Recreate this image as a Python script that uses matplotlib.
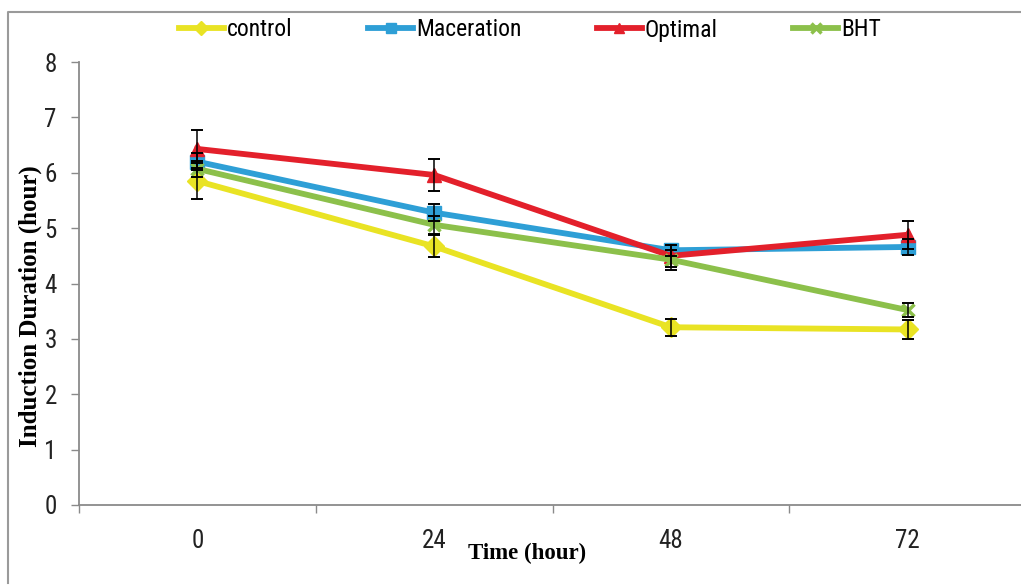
# Induction duration over time for the four treatments
import numpy as np
import matplotlib.pyplot as plt
from matplotlib.lines import Line2D
from matplotlib import font_manager as fm

times = ['0', '24', '48', '72']
series = ['control', 'Maceration', 'Optimal', 'BHT']
control = [5.85, 4.67, 3.21, 3.17]
control_err = [0.32, 0.20, 0.15, 0.17]
maceration = [6.20, 5.28, 4.60, 4.66]
maceration_err = [0.15, 0.16, 0.10, 0.15]
optimal = [6.43, 5.96, 4.50, 4.88]
optimal_err = [0.35, 0.29, 0.20, 0.25]
bht = [6.07, 5.06, 4.43, 3.52]
bht_err = [0.15, 0.16, 0.18, 0.13]

colors = ['#E9E324', '#2E9FD6', '#E3202B', '#8CC04B']
markers = ['D', 's', '^', 'x']
serif = ['Liberation Serif', 'DejaVu Serif']

# look for a narrow sans font file (Calibri-like look), fall back to Lato
narrow_file = None
best = 99
for f in fm.fontManager.ttflist:
    p = f.fname
    if any(k in p for k in ('Bold', 'Oblique', 'Italic', 'Light', 'Thin', 'Medium', 'Black')):
        continue
    for rank, key in enumerate(['LiberationSansNarrow', 'RobotoCondensed', 'DejaVuSansCondensed',
                                'OpenSansCondensed', 'NotoSans-Condensed']):
        if key in p.replace(' ', '').replace('_', '') and rank < best:
            best, narrow_file = rank, p


def nfont(size):
    if narrow_file:
        return fm.FontProperties(fname=narrow_file, size=size)
    return fm.FontProperties(family='Lato', size=size)


W, H = 1021, 587
fig = plt.figure(figsize=(W / 100, H / 100), dpi=100)
ax = fig.add_axes([79 / W, (H - 505) / H, 947 / W, 443 / H])

x = np.arange(len(times))
handles = []
for vals, errs, c, m, name in zip([control, maceration, optimal, bht],
                                  [control_err, maceration_err, optimal_err, bht_err],
                                  colors, markers, series):
    h, = ax.plot(x, vals, color=c, lw=4.2, marker=m, ms=10 if m != 'x' else 9,
                 mew=2.5 if m == 'x' else 1, mec=c, mfc=c, label=name, zorder=2)
    ax.errorbar(x, vals, yerr=errs, fmt='none', ecolor='black', elinewidth=1.1,
                capsize=4.5, capthick=1.4, zorder=3)
    handles.append(h)

ax.set_xlim(-0.5, 3.5)
ax.set_ylim(0, 8)
ax.set_yticks(range(0, 9))
ax.set_xticks(x)
ax.set_xticklabels(times)
ax.set_xticks(np.arange(-0.5, 3.0, 1), minor=True)
ax.tick_params(axis='x', which='major', length=0, pad=17)
ax.tick_params(axis='x', which='minor', length=6, width=1, color='#8a8a8a', direction='out')
ax.tick_params(axis='y', length=6, width=1, color='#8a8a8a', direction='out', pad=10)
for lab in ax.get_xticklabels() + ax.get_yticklabels():
    lab.set_fontproperties(nfont(18))
    lab.set_color('#222222')

for s in ['top', 'right']:
    ax.spines[s].set_visible(False)
for s in ['left', 'bottom']:
    ax.spines[s].set_color('#8a8a8a')
    ax.spines[s].set_linewidth(1.3)

fig.text(527 / W, 1 - 553 / H, 'Time (hour)', ha='center', va='center',
         family=serif, fontweight='bold', fontsize=16.5)
fig.text(30 / W, 1 - 306 / H, 'Induction Duration (hour)', ha='center', va='center',
         rotation=90, family=serif, fontweight='bold', fontsize=18)

leg = fig.legend(handles=handles, loc='center left', bbox_to_anchor=(179 / W, 1 - 30 / H),
                 ncol=4, frameon=False, handlelength=1.9, handletextpad=0.13,
                 columnspacing=3.2, prop=nfont(17), markerscale=0.75,
                 borderaxespad=0, borderpad=0)

# outer frame (left and top edges only)
fig.add_artist(Line2D([8 / W, 8 / W, 1.0], [1 - 583 / H, 1 - 12 / H, 1 - 12 / H],
                      transform=fig.transFigure, color='#9a9a9a', lw=1.5))

fig.savefig('out.png', dpi=100)
